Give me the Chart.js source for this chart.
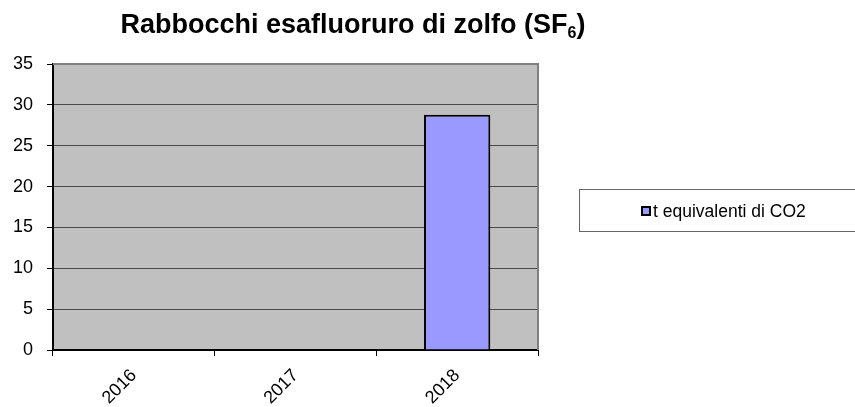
<!DOCTYPE html>
<html lang="it">
<head>
    <meta charset="UTF-8">
    <title>Rabbocchi SF6</title>
    <style>
        body { margin: 0; background: #ffffff; }
        #wrap { position: relative; width: 855px; height: 407px; }
    </style>
</head>
<body>
<div id="wrap">
    <canvas id="myChart" width="855" height="407"></canvas>
</div>

<script src="https://cdn.jsdelivr.net/npm/chart.js@4.4.0/dist/chart.umd.min.js"></script>
<script>
    // data
    const years = ["2016", "2017", "2018"];
    const tonsCO2 = [0, 0, 28.8];
    const yTicks = [0, 5, 10, 15, 20, 25, 30, 35];
    const seriesName = "t equivalenti di CO2";
    const titleMain = "Rabbocchi esafluoruro di zolfo (SF";
    const titleSub = "6";
    const titleEnd = ")";

    const fontFamily = "'Liberation Sans', Arial, sans-serif";
    const barColor = "#9999FF";

    // grey plot background + grey top/right border
    const plotArea = {
        id: 'plotArea',
        beforeDraw(chart) {
            const a = chart.chartArea, ctx = chart.ctx;
            ctx.save();
            ctx.fillStyle = "#C0C0C0";
            ctx.fillRect(a.left, a.top, a.right - a.left, a.bottom - a.top);
            ctx.restore();
        },
        afterDraw(chart) {
            const a = chart.chartArea, ctx = chart.ctx;
            ctx.save();
            ctx.strokeStyle = "#808080";
            ctx.lineWidth = 2;
            ctx.beginPath();
            ctx.moveTo(a.left, a.top);
            ctx.lineTo(a.right, a.top);
            ctx.lineTo(a.right, a.bottom);
            ctx.stroke();
            ctx.restore();
        }
    };

    // title with the subscript 6
    const titleSF6 = {
        id: 'titleSF6',
        afterDraw(chart) {
            const ctx = chart.ctx;
            ctx.save();
            const big = "bold 27px " + fontFamily;
            const small = "bold 16px " + fontFamily;
            ctx.font = big;
            const w1 = ctx.measureText(titleMain).width;
            const w3 = ctx.measureText(titleEnd).width;
            ctx.font = small;
            const w2 = ctx.measureText(titleSub).width;
            let x = 353 - (w1 + w2 + w3) / 2;
            const y = 33;
            ctx.fillStyle = "#000";
            ctx.textBaseline = "alphabetic";
            ctx.textAlign = "left";
            ctx.font = big;
            ctx.fillText(titleMain, x, y);
            x += w1;
            ctx.font = small;
            ctx.fillText(titleSub, x, y + 5);
            x += w2;
            ctx.font = big;
            ctx.fillText(titleEnd, x, y);
            ctx.restore();
        }
    };

    // legend box on the right
    const sideLegend = {
        id: 'sideLegend',
        afterDraw(chart) {
            const ctx = chart.ctx;
            const ds = chart.data.datasets[0];
            ctx.save();
            ctx.strokeStyle = "#666666";
            ctx.lineWidth = 1;
            ctx.strokeRect(579.5, 189.5, 300, 42);
            ctx.fillStyle = "#000";
            ctx.fillRect(641, 206, 10, 10);
            ctx.fillStyle = ds.backgroundColor;
            ctx.fillRect(643, 208, 6, 6);
            ctx.fillStyle = "#000";
            ctx.font = "17.5px " + fontFamily;
            ctx.textBaseline = "middle";
            ctx.fillText(ds.label, 653, 212);
            ctx.restore();
        }
    };

    const ctx = document.getElementById('myChart').getContext('2d');
    const myChart = new Chart(ctx, {
        type: 'bar',
        data: {
            labels: years,
            datasets: [{
                label: seriesName,
                data: tonsCO2,
                backgroundColor: barColor,
                borderColor: "#000000",
                borderWidth: 2,
                barPercentage: 0.41,
                categoryPercentage: 1.0
            }]
        },
        options: {
            responsive: false,
            animation: false,
            layout: { padding: { top: 64, right: 317, left: 0, bottom: 0 } },
            plugins: {
                legend: { display: false },
                title: { display: false },
                tooltip: { enabled: false }
            },
            scales: {
                x: {
                    offset: true,
                    grid: {
                        offset: true,
                        drawOnChartArea: false,
                        drawTicks: true,
                        tickLength: 6,
                        color: "#000000"
                    },
                    border: { color: "#000000", width: 2 },
                    ticks: {
                        color: "#000000",
                        font: { family: fontFamily, size: 18 },
                        minRotation: 45,
                        maxRotation: 45,
                        padding: 9
                    },
                    afterFit(scale) { scale.height = 57; }
                },
                y: {
                    min: 0,
                    max: 35,
                    afterBuildTicks(scale) {
                        scale.ticks = yTicks.map(v => ({ value: v }));
                    },
                    grid: {
                        color: "#4a4a4a",
                        tickColor: "#000000",
                        tickLength: 6,
                        lineWidth: 1
                    },
                    border: { color: "#000000", width: 2 },
                    ticks: {
                        color: "#000000",
                        font: { family: fontFamily, size: 18 },
                        padding: 14
                    },
                    afterFit(scale) { scale.width = 53; }
                }
            }
        },
        plugins: [plotArea, titleSF6, sideLegend]
    });
</script>
</body>
</html>
